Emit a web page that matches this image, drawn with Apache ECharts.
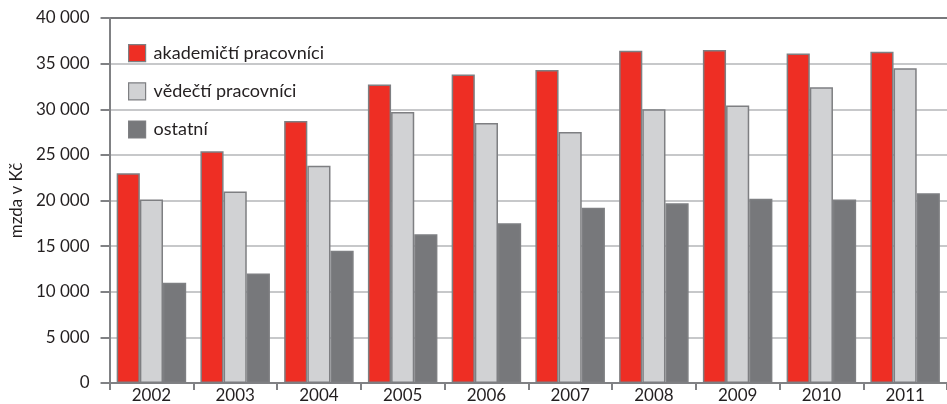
<!DOCTYPE html>
<html>
<head>
<meta charset="utf-8">
<script src="https://cdn.jsdelivr.net/npm/echarts@6/dist/echarts.min.js"></script>
<style>
    html, body { margin: 0; padding: 0; background: #fff; }
    #chart { width: 947px; height: 404px; }
</style>
</head>
<body>
<div id="chart"></div>
<script>
    // roky
    const years = ['2002', '2003', '2004', '2005', '2006', '2007', '2008', '2009', '2010', '2011']
    // průměrná mzda v Kč
    const akademicti = [23000, 25400, 28700, 32700, 33800, 34300, 36400, 36500, 36100, 36300]
    const vedecti = [20100, 21000, 23800, 29700, 28500, 27500, 30000, 30400, 32400, 34500]
    const ostatni = [11000, 12000, 14500, 16300, 17500, 19200, 19700, 20200, 20100, 20800]
    const seriesNames = ['akademičtí pracovníci', 'vědečtí pracovníci', 'ostatní']

    const font = 'Lato'
    const textColor = '#231f20'
    const axisGray = '#808184'
    const gridGray = '#c7c8ca'
    const barBorder = '#7e7f82'

    let chart = echarts.init(document.getElementById('chart'))

    function fmt(v){
        return String(v).replace(/\B(?=(\d{3})+(?!\d))/g, ' ')
    }

    function bar(name, data, color){
        return {
            name: name,
            type: 'bar',
            data: data,
            barGap: '0%',
            barCategoryGap: '17%',
            itemStyle: {
                color: color,
                borderColor: barBorder,
                borderWidth: 1.5
            }
        }
    }

    chart.setOption({
        animation: false,
        textStyle: { fontFamily: font, color: textColor },
        grid: { left: 105, right: 0, top: 18, bottom: 20 },
        legend: {
            orient: 'vertical',
            left: 123,
            top: 39,
            itemWidth: 17,
            itemHeight: 17,
            itemGap: 20,
            icon: 'rect',
            itemStyle: { borderColor: barBorder, borderWidth: 1.2 },
            textStyle: { fontSize: 18, color: textColor, fontFamily: font, padding: [0, 0, 0, 3] },
            data: seriesNames
        },
        xAxis: {
            type: 'category',
            data: years,
            axisLine: { lineStyle: { color: axisGray, width: 2 } },
            axisTick: { show: true, length: 7, lineStyle: { color: axisGray, width: 2 } },
            axisLabel: { fontSize: 17, color: textColor, margin: 4, fontFamily: font }
        },
        yAxis: {
            type: 'value',
            min: 0,
            max: 40000,
            interval: 5000,
            name: 'mzda v Kč',
            nameLocation: 'middle',
            nameGap: 80,
            nameRotate: 90,
            nameTextStyle: { fontSize: 17, color: textColor, fontFamily: font },
            axisLine: { show: true, lineStyle: { color: axisGray, width: 2 } },
            axisTick: { show: true, length: 9, lineStyle: { color: axisGray, width: 2 } },
            axisLabel: { fontSize: 17, color: textColor, margin: 20, fontFamily: font, formatter: fmt },
            splitLine: {
                show: true,
                lineStyle: {
                    color: [gridGray, gridGray, gridGray, gridGray, gridGray, gridGray, gridGray, gridGray, '#77787b'],
                    width: 2
                }
            }
        },
        series: [
            bar(seriesNames[0], akademicti, '#ee2e24'),
            bar(seriesNames[1], vedecti, '#d1d2d4'),
            bar(seriesNames[2], ostatni, '#77787b')
        ]
    })
</script>
</body>
</html>
